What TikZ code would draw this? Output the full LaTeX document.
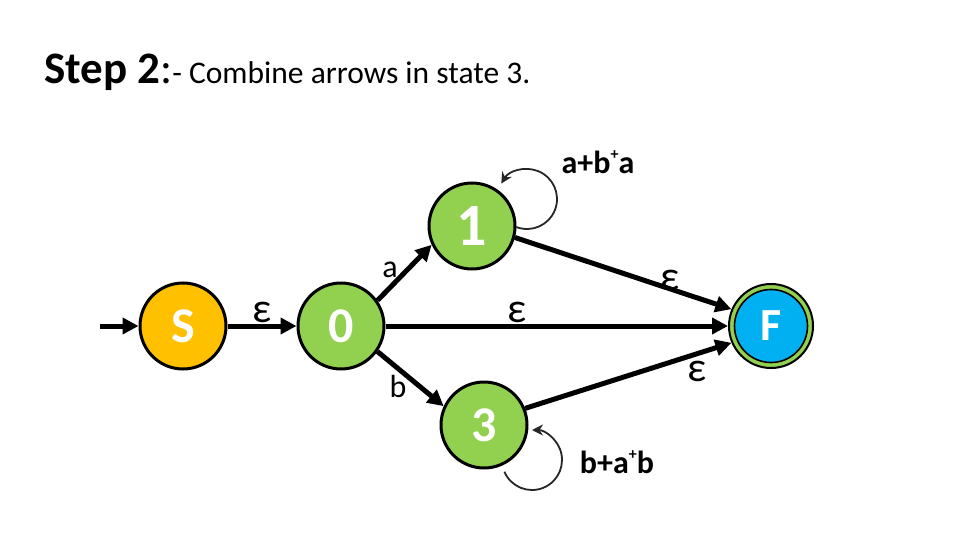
\documentclass[tikz,border=0pt]{standalone}
\usepackage{fontspec}
\setmainfont{Carlito}
\usetikzlibrary{arrows.meta}
\definecolor{stgreen}{HTML}{92D050}
\definecolor{storange}{HTML}{FFC000}
\definecolor{stblue}{HTML}{00B0F0}
\begin{document}
\begin{tikzpicture}[x=1pt,y=1pt,
  state/.style={circle, draw=black, line width=3pt, minimum size=86pt, inner sep=0pt,
     text=white, font=\bfseries\fontsize{50}{50}\selectfont},
  edge/.style={line width=5pt, -{Triangle[length=16pt,width=16pt]}},
  loopedge/.style={line width=1.8pt, draw=black!85, -{Stealth[length=11pt,width=11pt]}},
  eps/.style={font=\fontsize{42}{42}\selectfont},
  lab/.style={font=\fontsize{32}{32}\selectfont},
  looplab/.style={font=\bfseries\fontsize{32}{32}\selectfont}
]
\useasboundingbox (0,0) rectangle (960,-540);
% title
\node[anchor=base west, inner sep=0pt] (title) at (44,-84)
  {{\bfseries\fontsize{45}{45}\selectfont Step 2}{\fontsize{45}{45}\selectfont :}{\fontsize{31.5}{32}\selectfont - Combine arrows in state 3.}};
% states
\node[state, fill=storange] (S) at (183,-326) {S};
\node[state, fill=stgreen] (q0) at (341,-326) {0};
\node[state, fill=stgreen, font=\bfseries\fontsize{60}{60}\selectfont] (q1) at (472,-226) {1};
\node[state, fill=stgreen] (q3) at (484,-425) {3};
\node[state, minimum size=84pt, line width=2pt, fill=stgreen, font=\bfseries\fontsize{46}{46}\selectfont,
  path picture={\draw[fill=stblue, line width=1.6pt] (path picture bounding box.center) circle (36.5);}] (F) at (771,-326) {F};
% start
\coordinate (start) at (100,-326);
\draw[edge] (start) -- (S);
% edges
\draw[edge] (S) -- (q0);
\node[eps] (e0) at (262,-312) {ε};
\draw[edge] (q0.35) -- (q1.205);
\node[lab] (la) at (390,-270) {a};
\draw[edge] (q0) -- (F);
\node[eps] (e1) at (517,-312) {ε};
\draw[edge] (q1.-15) -- (F.157);
\node[eps] (e2) at (670,-280) {ε};
\draw[edge] (q0.-35) -- (q3.155);
\node[lab] (lb) at (398,-386) {b};
\draw[edge] (q3.22) -- (F.-157);
\node[eps] (e3) at (697,-371) {ε};
% self loops
\coordinate (c1) at (527,-199);
\draw[loopedge] (c1) ++(-111:30) arc[start angle=-111, end angle=149, radius=30];
\node[looplab] (l1) at (598,-162) {a+b\raisebox{0.42em}{\fontsize{16}{16}\selectfont +}a};
\coordinate (c3) at (532,-460);
\draw[loopedge] (c3) ++(203:30) arc[start angle=203, end angle=450, radius=30];
\node[looplab] (l3) at (617,-462) {b+a\raisebox{0.42em}{\fontsize{16}{16}\selectfont +}b};
\end{tikzpicture}
\end{document}
